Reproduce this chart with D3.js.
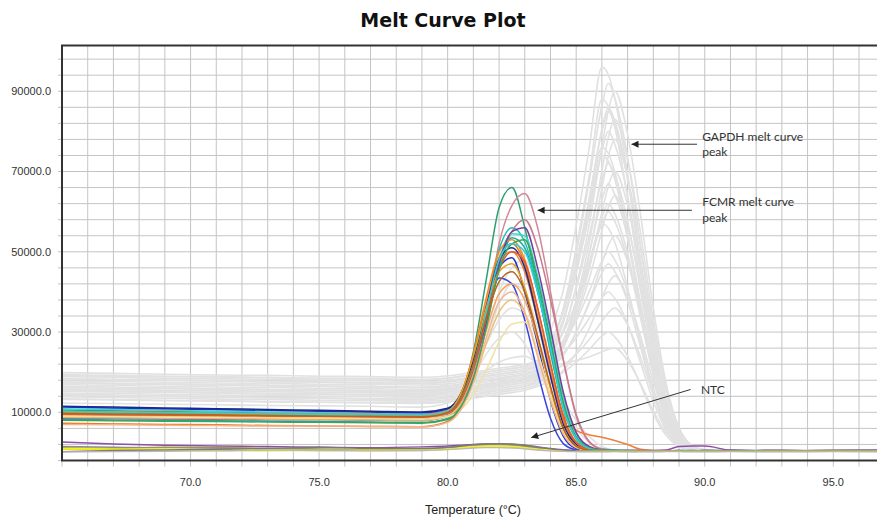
<!DOCTYPE html>
<html>
<head>
<meta charset="utf-8">
<script src="https://cdn.jsdelivr.net/npm/d3@7"></script>
<style>
  body { margin: 0; background: #fff; }
  svg { display: block; }
</style>
</head>
<body>
<div id="chart"></div>
<script>

// melt curve data: temperature (°C) and -dF/dT (in thousands)
var fcmrTemps = [65, 67, 69, 71, 73, 75, 77, 79, 80, 80.5, 81, 81.5, 82, 82.5, 83, 83.5, 84, 84.5, 85, 85.5, 86, 86.5, 87, 87.5, 88, 88.5, 89, 89.5, 90, 91, 93, 95, 96.7];
var gapdhTemps = [65, 67, 69, 71, 73, 75, 77, 79, 80, 81, 82, 83, 83.5, 84, 84.5, 85, 85.5, 86, 86.25, 86.5, 87, 87.5, 88, 88.5, 89, 89.5, 90, 91, 93, 95, 96.7];

// GAPDH wells (grey)
var gapdhCurves = [
    [19.9,19.7,19.5,19.3,19.2,19.0,18.9,18.7,19.1,20.0,21.0,22.0,23.0,30.3,40.5,56.6,75.6,96,94.1,88.3,69.1,46.1,25,9.6,2.9,1.0,0.5,0.4,0.3,0.4,0.3],
    [18.3,18.2,18.0,17.9,17.7,17.6,17.4,17.3,17.7,18.5,19.5,20.5,21.5,27.1,35.6,49.7,67.3,86.4,92,88.3,73.6,51.5,29.4,12.9,4.1,1.1,0.6,0.5,0.3,0.3,0.4],
    [17.5,17.2,17.0,16.9,16.6,16.5,16.3,16.2,16.6,17.5,18.5,19.5,20.5,24,30.2,41.4,56.6,76.1,85.1,90,79.2,59.4,36,17.1,6.3,1.8,0.7,0.4,0.4,0.3,0.3],
    [16.4,16.1,16.0,15.8,15.6,15.5,15.4,15.3,15.6,16.5,17.5,18.5,19.5,26.4,35.9,51,68.8,88,86.2,81,63.4,42.2,22.9,8.8,2.6,0.9,0.4,0.3,0.4,0.3,0.3],
    [19.2,19.0,18.9,18.8,18.6,18.4,18.3,18.1,18.5,19.5,20.5,21.5,22.5,27.5,35,47.5,63.1,80,85,81.6,68,47.6,27.2,11.9,3.8,1,0.5,0.4,0.3,0.3,0.4],
    [15.5,15.3,15.1,14.9,14.7,14.6,14.4,14.3,14.7,15.5,16.5,17.5,18.5,21.7,27.5,37.9,52,70.1,78.5,83,73,54.8,33.2,15.8,5.8,1.7,0.7,0.4,0.3,0.4,0.3],
    [17.8,17.7,17.5,17.3,17.2,17.0,16.9,16.8,17.1,18.0,19.0,20.0,21.0,25.7,32.8,44.6,59.4,75.3,80,76.8,64,44.8,25.6,11.2,3.6,1,0.5,0.4,0.4,0.3,0.3],
    [14.5,14.3,14.1,13.9,13.7,13.6,13.4,13.3,13.7,14.5,15.5,16.5,17.5,20.5,26,35.7,49,65.9,73.8,78,68.6,51.5,31.2,14.8,5.5,1.6,0.6,0.4,0.3,0.3,0.4],
    [18.9,18.7,18.5,18.4,18.2,18.0,17.9,17.7,18.0,19.0,20.0,21.0,22.0,27.4,35,46.8,60.9,76,74.5,69.9,54.7,36.5,19.8,7.6,2.3,0.8,0.4,0.3,0.4,0.3,0.3],
    [16.9,16.7,16.5,16.3,16.2,16.0,15.9,15.7,16.1,17.0,18.0,19.0,20.0,24.2,30.4,40.8,53.8,67.8,72,69.1,57.6,40.3,23,10.1,3.2,0.9,0.4,0.4,0.3,0.3,0.3],
    [15.8,15.7,15.5,15.4,15.2,15.0,14.9,14.8,15.1,16.0,17.0,18.0,19.0,21.6,26.1,34.3,45.5,59.8,66.4,70,61.6,46.2,28,13.3,4.9,1.4,0.6,0.4,0.3,0.4,0.3],
    [13.9,13.7,13.5,13.3,13.2,13.0,12.9,12.8,13.1,14.0,15.0,16.0,17.0,21,27,37,49.5,63,67,64.3,53.6,37.5,21.4,9.4,3,0.8,0.4,0.3,0.3,0.4,0.3],
    [17.3,17.1,17.0,16.8,16.7,16.5,16.4,16.2,16.6,17.5,18.5,19.5,20.5,22.7,26.6,33.6,43.1,55.3,61,64,56.3,42.2,25.6,12.2,4.5,1.3,0.5,0.4,0.4,0.3,0.3],
    [19.4,19.2,19.0,18.9,18.7,18.5,18.4,18.2,18.6,19.5,20.5,21.5,22.5,25.5,30,37.5,46.9,57,60,57.6,48,33.6,19.2,8.4,2.7,0.7,0.4,0.3,0.3,0.3,0.4],
    [14.8,14.7,14.5,14.3,14.2,14.0,13.9,13.8,14.1,15.0,16.0,17.0,18.0,21.9,27.4,35.9,46.1,57,55.9,52.4,41,27.4,14.8,5.7,1.7,0.6,0.3,0.3,0.4,0.3,0.3],
    [16.3,16.2,16.0,15.8,15.7,15.5,15.4,15.3,15.6,16.5,17.5,18.5,19.5,21.2,24.3,29.9,37.4,47.1,51.6,54,47.5,35.6,21.6,10.3,3.8,1.1,0.4,0.3,0.3,0.4,0.3],
    [18.4,18.2,18.0,17.9,17.7,17.5,17.4,17.2,17.6,18.5,19.5,20.5,21.5,23.8,27.2,32.9,40,47.7,50,48,40,28,16,7,2.3,0.6,0.3,0.4,0.3,0.3,0.3],
    [15.3,15.2,15.0,14.8,14.7,14.5,14.4,14.3,14.6,15.5,16.5,17.5,18.5,20.8,24.2,29.9,37,44.7,47,45.1,37.6,26.3,15,6.6,2.1,0.6,0.3,0.3,0.4,0.3,0.3],
    [13.4,13.2,13.0,12.9,12.7,12.5,12.4,12.3,12.6,13.5,14.5,15.5,16.5,17.9,20.4,24.8,30.8,38.5,42.1,44,38.7,29,17.6,8.4,3.1,0.9,0.4,0.3,0.3,0.3,0.4],
    [17.4,17.2,17.0,16.8,16.7,16.5,16.4,16.2,16.6,17.5,18.5,19.5,20.5,22.5,24.8,28.6,33.4,38.5,40,38.4,32,22.4,12.8,5.6,1.8,0.5,0.3,0.4,0.3,0.3,0.3],
    [16.4,16.2,16.0,15.9,15.7,15.5,15.4,15.3,15.6,16.5,17.5,18.5,19.5,20.3,21.8,24.5,28.1,32.7,34.8,36,31.7,23.8,14.4,6.8,2.5,0.7,0.3,0.3,0.4,0.3,0.3],
    [14.4,14.2,14.0,13.8,13.7,13.5,13.4,13.2,13.6,14.5,15.5,16.5,17.5,18.5,20,22.5,25.6,29,30,28.8,24,16.8,9.6,4.2,1.4,0.4,0.3,0.3,0.3,0.4,0.3],
    [18.3,18.1,18.0,17.8,17.6,17.5,17.3,17.2,17.6,18.5,19.5,20.5,21.5,21.7,22.1,22.9,23.8,25.1,25.7,26,22.9,17.2,10.4,4.9,1.8,0.5,0.3,0.3,0.3,0.3,0.4],
    [15.9,15.7,15.5,15.3,15.2,15.0,14.9,14.7,15.1,16.0,17.0,18.0,19.0,24.4,32.4,45.8,62.6,80.6,86,82.6,68.8,48.2,27.5,12,3.9,1,0.5,0.4,0.3,0.3,0.3],
    [17.4,17.2,17.0,16.9,16.7,16.5,16.4,16.2,16.6,17.5,18.5,19.5,20.5,25.9,33.3,45.1,59,74,72.5,68.1,53.3,35.5,19.2,7.4,2.2,0.7,0.4,0.3,0.3,0.4,0.3],
    [16.3,16.1,16.0,15.8,15.6,15.5,15.3,15.2,15.6,16.5,17.5,18.5,19.5,22.9,28,36.5,47.1,58.6,62,59.5,49.6,34.7,19.8,8.7,2.8,0.7,0.4,0.3,0.4,0.3,0.3]
];

// unselected FCMR wells (grey, fcmrTemps)
var greyFcmrCurves = [
    [15.3,15.1,15.0,14.8,14.6,14.5,14.3,14.1,15,17,21,27,33,36,34.5,28,20,12,6,2.5,1,0.6,0.5,0.4,0.4,0.4,0.3,0.3,0.3,0.3,0.3,0.4,0.3],
    [13.2,13.1,12.9,12.8,12.6,12.5,12.4,12.2,13,15,19,24.5,28.5,30,27,21,14,8,3.5,1.2,0.6,0.5,0.4,0.4,0.3,0.3,0.4,0.3,0.3,0.4,0.3,0.3,0.3],
    [16.4,16.2,16,15.8,15.6,15.5,15.4,15.2,15.8,16.8,18.5,20.5,22.5,23.6,24,22,18,13,8,4,1.5,0.6,0.5,0.4,0.4,0.3,0.3,0.4,0.3,0.3,0.4,0.3,0.3],
    [12.3,12.2,12.0,11.9,11.7,11.6,11.5,11.3,12.3,15,20,28,37,42,40,31,20,10,4,1.3,0.6,0.5,0.4,0.4,0.4,0.3,0.3,0.3,0.4,0.3,0.3,0.3,0.4],
    [14.2,14.1,13.9,13.8,13.6,13.5,13.3,13.2,14,16,21,30,40,46,48,40,27,14,5,1.5,0.6,0.5,0.4,0.4,0.3,0.3,0.4,0.3,0.3,0.3,0.4,0.3,0.3]
];

// FCMR wells (coloured)
var fcmrColors = ['#2f9e6e', '#d48898', '#c77c8e', '#1fbfb5', '#34d8cf', '#17a89e', '#f28a26', '#e9761b', '#ef7e3c', '#1f2fd0', '#3a45e0', '#1b2a8a', '#7a3c9c', '#f6a55a', '#e8c07c', '#f1e2a2', '#f5b58c', '#e35b2f', '#e8a31f', '#3aa65b', '#2bd0d8', '#b5651d'];
var fcmrCurves = [
    [10.6,10.4,10.2,10.0,9.8,9.6,9.4,9.2,10.2,14,25,43,61,66,56,41,25,11,3.5,1.0,0.6,0.5,0.4,0.4,0.4,0.3,0.4,0.4,0.5,0.5,0.4,0.5,0.5],
    [9.3,9.1,9.0,8.9,8.8,8.7,8.6,8.5,9.3,12.5,20,34,52,61.5,64.5,56,40,23,9,2.6,0.8,0.6,0.5,0.5,0.4,0.4,0.4,0.4,0.5,0.4,0.5,0.5,0.4],
    [8.8,8.7,8.6,8.5,8.4,8.3,8.2,8.1,9.0,12,18.5,31,46,55,58,51,38,23,9.5,2.8,0.9,0.6,0.5,0.5,0.4,0.4,0.5,0.4,0.4,0.5,0.4,0.4,0.5],
    [9.9,9.7,9.6,9.4,9.2,9.1,8.9,8.8,9.9,13.2,21.5,35.5,50.5,56,52.5,41.5,27.5,11.5,3.8,1.2,0.6,0.5,0.5,0.4,0.4,0.4,0.4,0.5,0.4,0.4,0.5,0.4,0.5],
    [10.9,10.7,10.5,10.3,10.1,9.9,9.7,9.5,10.5,13.6,21,34,48,54.5,54,44,30,14,4.5,1.4,0.6,0.5,0.5,0.5,0.4,0.4,0.5,0.5,0.4,0.5,0.5,0.4,0.4],
    [8.3,8.1,8.0,7.9,7.8,7.7,7.6,7.5,8.5,11.6,19.2,32.5,46.5,53.5,51,40,26,11,3.4,1.0,0.5,0.5,0.4,0.4,0.4,0.4,0.4,0.4,0.4,0.5,0.4,0.5,0.4],
    [9.7,9.5,9.4,9.3,9.1,9.0,8.9,8.8,10.1,14.2,24.5,38.5,50,53,48,36,22,9,2.6,0.9,0.5,0.5,0.4,0.4,0.4,0.4,0.3,0.4,0.4,0.4,0.4,0.5,0.5],
    [7.3,7.1,7.0,6.9,6.7,6.6,6.5,6.4,7.7,11.6,21.5,36.5,48.5,52,47,34,20,8,2.2,0.8,0.5,0.4,0.4,0.4,0.3,0.4,0.4,0.4,0.4,0.3,0.4,0.4,0.4],
    [10.3,10.1,10.0,9.9,9.7,9.6,9.5,9.4,10.6,14.5,24,37,47.5,50,45,33,20,9.5,5.5,4.4,3.8,3.0,2.0,0.8,0.5,0.4,0.4,0.5,0.4,0.4,0.5,0.4,0.4],
    [11.3,11.1,10.9,10.7,10.5,10.3,10.1,9.9,10.9,14.1,23,36,46,48.5,40,27,13,4,1,0.5,0.4,0.4,0.4,0.4,0.4,0.4,0.4,0.4,0.5,0.4,0.4,0.4,0.5],
    [8.6,8.5,8.4,8.3,8.2,8.2,8.1,8.0,9.1,12.6,21,33.5,43.5,42,33,20,8.5,2.2,0.7,0.5,0.4,0.4,0.4,0.3,0.4,0.4,0.4,0.4,0.3,0.4,0.4,0.4,0.4],
    [11.5,11.3,11.1,10.9,10.7,10.5,10.3,10.1,11.0,14.5,23,36,48,51,46,33,19,7,2,0.6,0.4,0.4,0.4,0.4,0.4,0.3,0.4,0.4,0.4,0.4,0.4,0.4,0.4],
    [9.1,9.0,8.9,8.8,8.7,8.6,8.5,8.4,9.4,12.2,19.5,32,47,55,56,46,31,15,5,1.5,0.6,0.5,0.4,0.4,0.4,0.4,0.5,0.4,0.4,0.4,0.5,0.4,0.4],
    [8.7,8.6,8.5,8.4,8.3,8.2,8.1,8.0,9.1,12.2,19.5,30.5,39.5,42,38,28,16,6,1.5,0.6,0.5,0.4,0.4,0.4,0.4,0.4,0.4,0.4,0.4,0.4,0.4,0.4,0.4],
    [9.2,9.1,9.0,8.9,8.8,8.7,8.6,8.5,9.3,11.8,17.5,27,35,38,34.5,25,14,5.5,1.5,0.6,0.5,0.4,0.4,0.4,0.4,0.4,0.4,0.4,0.4,0.4,0.4,0.4,0.4],
    [9.0,8.9,8.8,8.7,8.6,8.5,8.4,8.3,8.9,10.6,14.5,20.5,27.5,32,32.5,25,14,5,1.3,0.5,0.4,0.4,0.4,0.4,0.4,0.4,0.4,0.4,0.4,0.4,0.4,0.4,0.4],
    [7.0,6.9,6.8,6.7,6.6,6.6,6.5,6.4,7.5,10.5,17.5,28.5,37.5,40,35,24,13,4.5,1.2,0.5,0.4,0.4,0.4,0.4,0.4,0.4,0.4,0.4,0.4,0.4,0.4,0.4,0.4],
    [9.5,9.4,9.3,9.2,9.1,9.0,8.9,8.8,9.8,13,21,33.5,45.5,50,47.5,36,22,9,2.5,0.8,0.5,0.4,0.4,0.4,0.4,0.4,0.4,0.4,0.4,0.4,0.4,0.4,0.4],
    [10.0,9.8,9.7,9.6,9.4,9.3,9.2,9.1,10.3,14.4,24,36,45,47,41,29,16,6,1.6,0.6,0.5,0.4,0.4,0.4,0.4,0.4,0.4,0.4,0.4,0.4,0.4,0.4,0.4],
    [8.0,7.9,7.8,7.7,7.6,7.5,7.4,7.3,8.2,11.2,18.5,31,45.5,52,53,43,28,12.5,3.8,1.1,0.6,0.5,0.4,0.4,0.4,0.4,0.4,0.4,0.4,0.4,0.4,0.4,0.4],
    [10.2,10.0,9.9,9.8,9.6,9.5,9.4,9.3,10.3,13.5,21.8,35,48,52,50,40,26,11,3.5,1.0,0.5,0.5,0.4,0.4,0.4,0.4,0.4,0.4,0.4,0.4,0.4,0.4,0.4],
    [9.8,9.6,9.5,9.4,9.2,9.1,9.0,8.9,10,13.5,22,33.5,42.5,45,40,29,16.5,6,1.6,0.6,0.5,0.4,0.4,0.4,0.4,0.4,0.4,0.4,0.4,0.4,0.4,0.4,0.4]
];

// no-template controls (fcmrTemps)
var ntcColors = ['#8e4ea8', '#8c8c8c', '#9a9a4a', '#e8e800', '#f2ee30', '#7a7a7a', '#b8b8b8'];
var ntcCurves = [
    [2.6,2.1,1.8,1.6,1.5,1.3,1.2,1.4,1.6,1.8,2.0,2.1,2.1,2.0,1.8,1.4,1.0,0.7,0.5,0.4,0.4,0.4,0.5,0.5,0.5,0.6,1.5,1.6,1.6,0.6,0.4,0.5,0.5],
    [1.5,1.3,1.2,1.1,1.0,0.9,0.6,0.9,1.2,1.5,1.8,2.0,2.1,2.0,1.7,1.2,0.8,0.5,0.3,0.2,0.2,0.3,0.3,0.2,0.2,0.3,0.3,0.2,0.2,0.3,0.2,0.3,0.2],
    [1.2,1.0,1.3,1.2,1.0,0.7,0.6,0.8,1.1,1.4,1.7,1.9,1.9,1.8,1.5,1.0,0.6,0.4,0.3,0.3,0.3,0.3,0.2,0.3,0.3,0.3,0.3,0.3,0.3,0.3,0.3,0.3,0.3],
    [0.8,0.7,0.6,0.5,0.4,0.5,0.4,0.5,0.8,1.0,1.2,1.4,1.4,1.3,1.0,0.7,0.5,0.4,0.3,0.3,0.4,0.4,0.3,0.3,0.3,0.4,0.3,0.3,0.4,0.3,0.4,0.3,0.4],
    [1.0,0.9,0.8,0.7,0.6,0.5,0.6,0.7,0.9,1.2,1.5,1.6,1.6,1.5,1.2,0.9,0.6,0.4,0.3,0.3,0.3,0.4,0.4,0.3,0.3,0.3,0.4,0.4,0.3,0.3,0.3,0.4,0.3],
    [0.2,0.5,0.6,0.8,1.0,1.3,1.0,1.0,1.3,1.6,1.9,2.1,2.2,2.1,1.8,1.3,0.9,0.6,0.4,0.3,0.3,0.3,0.3,0.3,0.3,0.3,0.3,0.3,0.3,0.3,0.3,0.3,0.3],
    [0.1,0.2,0.3,0.4,0.6,0.5,0.4,0.5,0.7,0.9,1.1,1.2,1.2,1.1,0.9,0.6,0.4,0.3,0.2,0.2,0.2,0.2,0.2,0.2,0.2,0.2,0.2,0.2,0.2,0.2,0.2,0.2,0.2]
];

// axes
var xGridTicks = [65, 66, 67, 68, 69, 70, 71, 72, 73, 74, 75, 76, 77, 78, 79, 80, 81, 82, 83, 84, 85, 86, 87, 88, 89, 90, 91, 92, 93, 94, 95, 96];
var xLabelTicks = [70, 75, 80, 85, 90, 95];
var yGridTicks = [-2000, 2000, 6000, 10000, 14000, 18000, 22000, 26000, 30000, 34000, 38000, 42000, 46000, 50000, 54000, 58000, 62000, 66000, 70000, 74000, 78000, 82000, 86000, 90000, 94000, 98000];
var yLabelTicks = [10000, 30000, 50000, 70000, 90000];

// annotations: text, text position, arrow tail, arrow tip (°C, value)
var notes = [
    { lines: ['GAPDH melt curve', 'peak'], text: [89.9, 77700], from: [89.7, 76800], to: [87.15, 76800] },
    { lines: ['FCMR melt curve', 'peak'], text: [89.9, 61300], from: [89.5, 60350], to: [83.5, 60350] },
    { lines: ['NTC'], text: [89.85, 14500], from: [89.45, 15700], to: [83.25, 3700] }
];


var attrs = {
    svgWidth: 877,
    svgHeight: 521,
    plotLeft: 62,
    plotRight: 877,
    plotTop: 45.5,
    plotBottom: 460.5
};

var svg = d3.select('#chart')
    .append('svg')
    .attr('width', attrs.svgWidth)
    .attr('height', attrs.svgHeight);

var x = d3.scaleLinear().domain([65, 96.7]).range([attrs.plotLeft, attrs.plotRight]);
var y = d3.scaleLinear().domain([-2000, 101400]).range([attrs.plotBottom, attrs.plotTop]);

// grid (lines run past the axes to make the tick marks)
svg.append('g')
    .selectAll('line')
    .data(xGridTicks)
    .enter()
    .append('line')
    .attr('x1', d => x(d)).attr('x2', d => x(d))
    .attr('y1', attrs.plotTop).attr('y2', attrs.plotBottom + 6)
    .attr('stroke', '#c4c4c4')
    .attr('stroke-width', 1);

svg.append('g')
    .selectAll('line')
    .data(yGridTicks)
    .enter()
    .append('line')
    .attr('x1', attrs.plotLeft - 4).attr('x2', attrs.plotRight)
    .attr('y1', d => y(d)).attr('y2', d => y(d))
    .attr('stroke', '#c4c4c4')
    .attr('stroke-width', 1);

svg.append('clipPath').attr('id', 'plot-clip')
    .append('rect')
    .attr('x', attrs.plotLeft).attr('y', attrs.plotTop)
    .attr('width', attrs.plotRight - attrs.plotLeft)
    .attr('height', attrs.plotBottom - attrs.plotTop);

var chart = svg.append('g').attr('clip-path', 'url(#plot-clip)');

function lineFor(temps) {
    return d3.line()
        .x((d, i) => x(temps[i]))
        .y(d => y(d * 1000))
        .curve(d3.curveMonotoneX);
}

chart.append('g').selectAll('path')
    .data(gapdhCurves)
    .enter()
    .append('path')
    .attr('d', lineFor(gapdhTemps))
    .attr('fill', 'none')
    .attr('stroke', '#e1e1e1')
    .attr('stroke-width', 1.6);

chart.append('g').selectAll('path')
    .data(greyFcmrCurves)
    .enter()
    .append('path')
    .attr('d', lineFor(fcmrTemps))
    .attr('fill', 'none')
    .attr('stroke', '#e1e1e1')
    .attr('stroke-width', 1.6);

chart.append('g').selectAll('path')
    .data(fcmrCurves)
    .enter()
    .append('path')
    .attr('d', lineFor(fcmrTemps))
    .attr('fill', 'none')
    .attr('stroke', (d, i) => fcmrColors[i])
    .attr('stroke-width', 1.5);

chart.append('g').selectAll('path')
    .data(ntcCurves)
    .enter()
    .append('path')
    .attr('d', lineFor(fcmrTemps))
    .attr('fill', 'none')
    .attr('stroke', (d, i) => ntcColors[i])
    .attr('stroke-width', 1.4);

// frame
svg.append('path')
    .attr('d', 'M' + attrs.plotRight + ',' + attrs.plotTop + 'H' + attrs.plotLeft + 'V' + attrs.plotBottom + 'H' + attrs.plotRight)
    .attr('fill', 'none')
    .attr('stroke', '#333')
    .attr('stroke-width', 2);

// tick labels
svg.append('g')
    .selectAll('text')
    .data(yLabelTicks)
    .enter()
    .append('text')
    .attr('x', 51)
    .attr('y', d => y(d))
    .attr('dy', '0.35em')
    .attr('text-anchor', 'end')
    .attr('font-family', 'Liberation Sans, Arial, sans-serif')
    .attr('font-size', 11)
    .attr('fill', '#333')
    .text(d => d3.format('.1f')(d));

svg.append('g')
    .selectAll('text')
    .data(xLabelTicks)
    .enter()
    .append('text')
    .attr('x', d => x(d))
    .attr('y', 485.5)
    .attr('text-anchor', 'middle')
    .attr('font-family', 'Liberation Sans, Arial, sans-serif')
    .attr('font-size', 11)
    .attr('fill', '#333')
    .text(d => d3.format('.1f')(d));

svg.append('text')
    .attr('x', 473)
    .attr('y', 514)
    .attr('text-anchor', 'middle')
    .attr('font-family', 'Liberation Sans, Arial, sans-serif')
    .attr('font-size', 12.5)
    .attr('fill', '#222')
    .text('Temperature (°C)');

svg.append('text')
    .attr('x', 443)
    .attr('y', 26.5)
    .attr('text-anchor', 'middle')
    .attr('font-family', 'DejaVu Sans, sans-serif')
    .attr('font-weight', 'bold')
    .attr('font-size', 19)
    .attr('fill', '#111')
    .text('Melt Curve Plot');

// annotations
svg.append('defs').append('marker')
    .attr('id', 'arrowhead')
    .attr('viewBox', '0 0 10 10')
    .attr('refX', 10).attr('refY', 5)
    .attr('markerWidth', 9).attr('markerHeight', 7)
    .attr('markerUnits', 'userSpaceOnUse')
    .attr('orient', 'auto')
    .append('path')
    .attr('d', 'M0,0L10,5L0,10Z')
    .attr('fill', '#222');

var note = svg.append('g').selectAll('g')
    .data(notes)
    .enter()
    .append('g');

note.append('line')
    .attr('x1', d => x(d.from[0])).attr('y1', d => y(d.from[1]))
    .attr('x2', d => x(d.to[0])).attr('y2', d => y(d.to[1]))
    .attr('stroke', '#333')
    .attr('stroke-width', 1)
    .attr('marker-end', 'url(#arrowhead)');

note.append('text')
    .attr('x', d => x(d.text[0]))
    .attr('y', d => y(d.text[1]))
    .attr('font-family', 'Lato, sans-serif')
    .attr('font-size', 12)
    .attr('fill', '#333')
    .selectAll('tspan')
    .data(d => d.lines.map(t => ({ t: t, x: x(d.text[0]) })))
    .enter()
    .append('tspan')
    .attr('x', d => d.x)
    .attr('dy', (d, i) => i ? 15.5 : 0)
    .text(d => d.t);

</script>
</body>
</html>
